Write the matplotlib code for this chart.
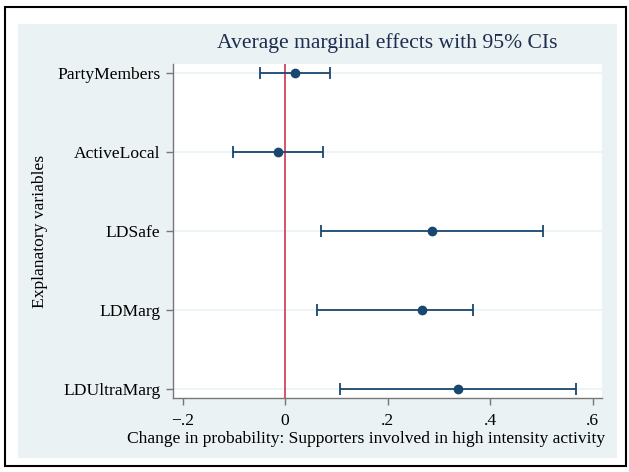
import numpy as np
import matplotlib.pyplot as plt
from matplotlib.patches import Rectangle

plt.rcParams['font.family'] = ['Liberation Serif', 'DejaVu Serif']

# data
variables = ["PartyMembers", "ActiveLocal", "LDSafe", "LDMarg", "LDUltraMarg"]
effects = [0.0195, -0.014, 0.287, 0.267, 0.338]
ci_low = [-0.049, -0.101, 0.070, 0.062, 0.107]
ci_high = [0.088, 0.074, 0.503, 0.367, 0.568]
xticks = [-0.2, 0.0, 0.2, 0.4, 0.6]
xticklabels = ["\u2212.2", "0", ".2", ".4", ".6"]

navy = "#1A476F"
bg = "#EAF2F3"

fig = plt.figure(figsize=(6.29, 4.72), dpi=100)
fig.patch.set_facecolor("white")
W, H = 629, 472

# graph region (light blue) and outer frame
fig.patches.append(Rectangle((18 / W, 1 - 458 / H), (617 - 18) / W, (458 - 24) / H,
                             transform=fig.transFigure, facecolor=bg, edgecolor="none", zorder=-10))
fig.patches.append(Rectangle((5 / W, 1 - 466 / H), (626 - 5) / W, (466 - 7) / H,
                             transform=fig.transFigure, facecolor="none", edgecolor="black",
                             linewidth=1.5, zorder=-9))

ax = fig.add_axes([173 / W, 1 - 398 / H, (602 - 173) / W, (398 - 64) / H])
ax.set_facecolor("white")

y = np.arange(1, len(variables) + 1)
eff = np.array(effects)
lo = np.array(ci_low)
hi = np.array(ci_high)

for yy in y:
    ax.axhline(yy, color=bg, linewidth=1.2, zorder=1)
ax.axvline(0, color="#D0485A", linewidth=1.3, zorder=2)
ax.errorbar(eff, y, xerr=[eff - lo, hi - eff], fmt="o", color=navy, ecolor=navy,
            elinewidth=1.3, capsize=4, capthick=1.3, markersize=6, zorder=3)

ax.set_xlim(-0.219, 0.618)
ax.set_ylim(5.114, 0.886)
ax.set_yticks(y)
ax.set_yticklabels(variables, fontsize=12.6)
ax.set_xticks(xticks)
ax.set_xticklabels(xticklabels, fontsize=12.6)

for s in ["top", "right"]:
    ax.spines[s].set_visible(False)
for s in ["left", "bottom"]:
    ax.spines[s].set_color("#777777")
    ax.spines[s].set_linewidth(1.0)
ax.tick_params(direction="out", length=5, color="#777777", width=1.0, pad=4)
ax.tick_params(axis="x", pad=6)

fig.text(387 / W, 1 - 43 / H, "Average marginal effects with 95% CIs", ha="center",
         va="center", fontsize=15.6, color="#1E2D4F")
fig.text(366 / W, 1 - 439 / H, "Change in probability: Supporters involved in high intensity activity",
         ha="center", va="center", fontsize=12.6)
fig.text(40 / W, 1 - 231 / H, "Explanatory variables", ha="center", va="center",
         rotation=90, fontsize=12.6)

fig.savefig("out.png", dpi=100)
